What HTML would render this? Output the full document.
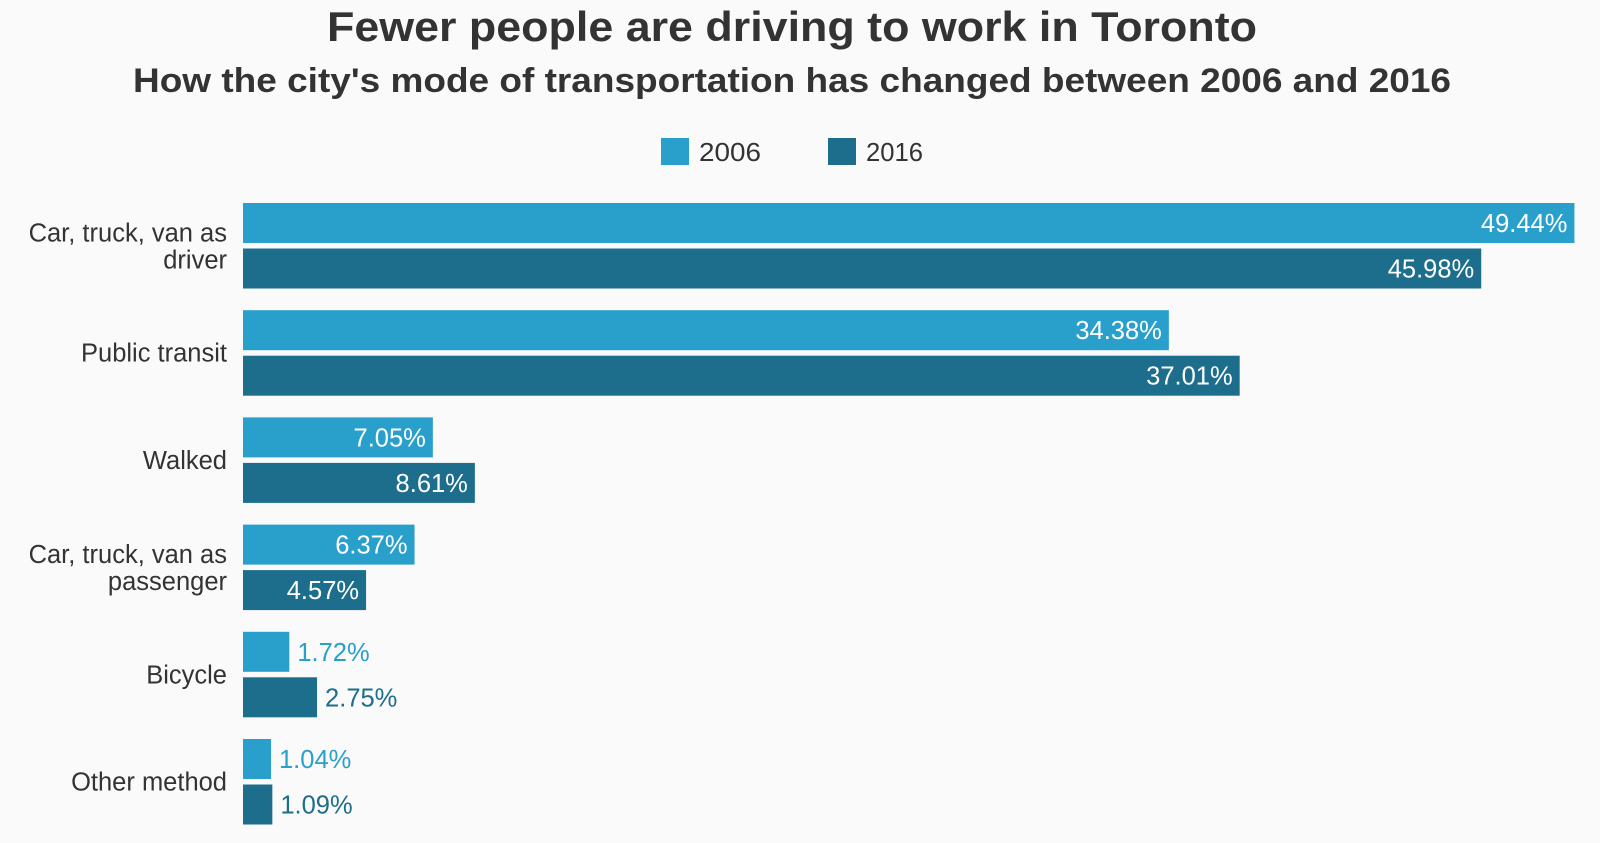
<!DOCTYPE html>
<html><head><meta charset="utf-8"><style>
body{margin:0;background:#fafafa;width:1600px;height:843px;overflow:hidden;font-family:"Liberation Sans",sans-serif;}
svg{display:block}
</style></head><body>
<svg id="chart" width="1600" height="843">
<rect width="1600" height="843" fill="#fafafa"/>
<text x="792" y="41" text-anchor="middle" font-size="42" font-weight="bold" fill="#333" textLength="930" lengthAdjust="spacingAndGlyphs">Fewer people are driving to work in Toronto</text>
<text x="792" y="92" text-anchor="middle" font-size="34" font-weight="bold" fill="#333" textLength="1318" lengthAdjust="spacingAndGlyphs">How the city's mode of transportation has changed between 2006 and 2016</text>
<g>
<rect x="661" y="138" width="28" height="27" fill="#29a0cb"/>
<text x="699" y="161" font-size="26" fill="#333" textLength="62" lengthAdjust="spacingAndGlyphs">2006</text>
<rect x="828" y="138" width="28" height="27" fill="#1c6e8c"/>
<text x="866" y="161" font-size="26" fill="#333" textLength="57" lengthAdjust="spacingAndGlyphs">2016</text>
</g>
<g id="bars"></g>
</svg>
<script>
const categories = [["Car, truck, van as","driver"],["Public transit"],["Walked"],["Car, truck, van as","passenger"],["Bicycle"],["Other method"]];
const values2006 = [49.44, 34.38, 7.05, 6.37, 1.72, 1.04];
const values2016 = [45.98, 37.01, 8.61, 4.57, 2.75, 1.09];
const colors = ["#29a0cb", "#1c6e8c"];
const x0 = 243, pxPer = 26.93;
const xScale = v => v * pxPer;
const yBand = i => 203 + i * 107.2;
const ns = "http://www.w3.org/2000/svg";
const g = document.getElementById("bars");
function mk(tag, attrs){const e=document.createElementNS(ns,tag);for(const k in attrs)e.setAttribute(k,attrs[k]);g.appendChild(e);return e;}
categories.forEach((cat, i) => {
  const y = yBand(i);
  const cy = y + 42.5;
  const t = mk("text", {x:227, "text-anchor":"end", "font-size":25.5, fill:"#333"});
  
  
  if (cat.length === 1) {
    t.setAttribute("y", cy + 9);
    t.textContent = cat[0];
  } else {
    cat.forEach((line, j) => {
      const s = document.createElementNS(ns, "tspan");
      s.setAttribute("x", 227);
      s.setAttribute("y", cy - 4 + j * 27);
      s.textContent = line;
      t.appendChild(s);
    });
  }
  [values2006[i], values2016[i]].forEach((v, k) => {
    const by = y + k * 45.5;
    const w = xScale(v);
    const r = mk("rect", {x:x0, y:by, width:w, height:40, fill:colors[k]});
    
    
    const inside = w > 100;
    const lab = mk("text", {x: inside ? x0 + w - 7 : x0 + w + 8, y: by + 29, "text-anchor": inside ? "end" : "start", "font-size":25.5, fill: inside ? "#fff" : colors[k]});
    
    
    lab.textContent = v.toFixed(2) + "%";
  });
});
</script>
</body></html>
